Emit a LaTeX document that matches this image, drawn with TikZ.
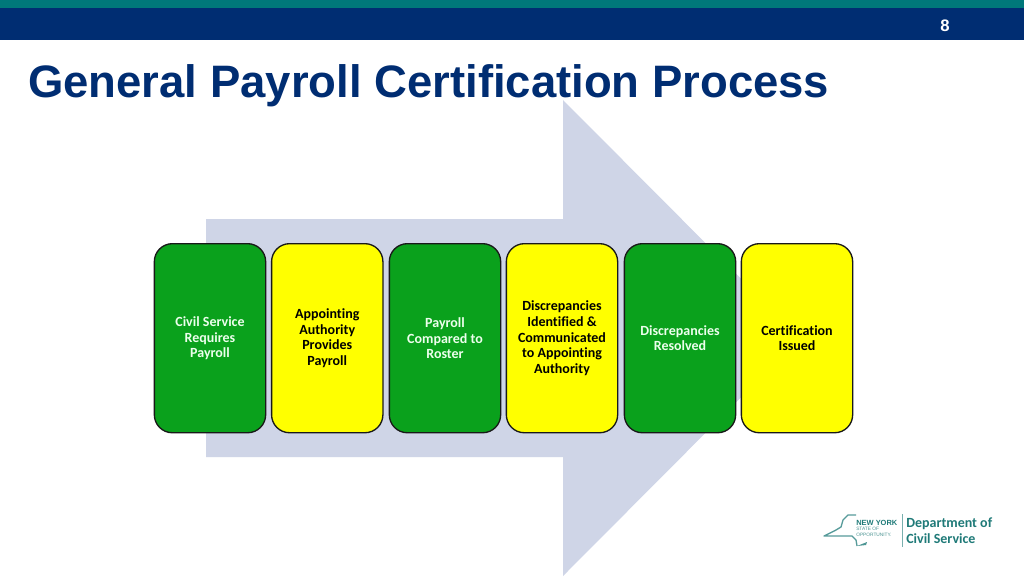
\documentclass[tikz,border=0pt]{standalone}
\usepackage{fontspec}
\setmainfont{Carlito}[Ligatures=NoCommon]
\newfontfamily\arialf{Liberation Sans}
\definecolor{navy}{HTML}{002D72}
\definecolor{tealbar}{HTML}{00787A}
\definecolor{arrowfill}{HTML}{CFD5E7}
\definecolor{boxgreen}{HTML}{0AA11C}
\definecolor{boxyellow}{HTML}{FFFF00}
\definecolor{logoteal}{HTML}{1F7A78}
\tikzset{
  stage/.style={draw=black!90,line width=1pt,rounded corners=13.5pt,minimum width=83.5pt,minimum height=141.8pt,inner sep=0pt,align=center,font=\bfseries\fontsize{10.5}{11.8}\selectfont,anchor=center},
  greenstage/.style={stage,fill=boxgreen,text=white!93!green},
  yellowstage/.style={stage,fill=boxyellow,text=black},
  logotext/.style={text=logoteal,inner sep=0pt,anchor=west,align=left}
}
\begin{document}
\begin{tikzpicture}[x=0.75pt,y=-0.75pt]
\useasboundingbox (0,0) rectangle (1024,576);
\fill[white] (0,0) rectangle (1024,576);
\fill[navy] (0,8) rectangle (1024,40);
\fill[tealbar] (0,0) rectangle (1024,8);
\node[text=white,inner sep=0pt,font=\arialf\bfseries\fontsize{12.5}{14}\selectfont] (pagenum) at (945,26) {8};
\fill[arrowfill] (206,219) -- (563,219) -- (563,100) -- (800,338) -- (563,576) -- (563,457) -- (206,457) -- cycle;
\node[text=navy,inner sep=0pt,anchor=west,font=\arialf\bfseries\fontsize{34.1}{40}\selectfont] (title) at (28,86) {General Payroll Certification Process};
\node[greenstage] (s1) at (210,338.2) {Civil Service\\Requires\\Payroll};
\node[yellowstage] (s2) at (327.25,338.2) {Appointing\\Authority\\Provides\\Payroll};
\node[greenstage] (s3) at (445,338.2) {Payroll\\Compared to\\Roster};
\node[yellowstage] (s4) at (562,338.2) {Discrepancies\\Identified \&\\Communicated\\to Appointing\\Authority};
\node[greenstage] (s5) at (680,338.2) {Discrepancies\\Resolved};
\node[yellowstage] (s6) at (797,338.2) {Certification\\Issued};
% logo
\draw[logoteal!75,line width=1pt,line join=round] (856,515) -- (848,515) -- (843,520) -- (841,527) -- (836,530) -- (824,536) -- (852,536) -- (856,540) -- (857,546);
\fill[logoteal!80] (857,546) -- (867,542) -- (866,545) -- cycle;
\fill[logoteal!60] (901.5,514) rectangle (902.5,547);
\node[logotext,font=\arialf\bfseries\fontsize{5.6}{6.5}\selectfont] (ny) at (856,523) {NEW YORK};
\node[logotext,font=\arialf\fontsize{3.6}{4}\selectfont,opacity=.8] (st) at (856,532) {STATE OF\\OPPORTUNITY.};
\node[logotext,font=\bfseries\fontsize{10.5}{12.2}\selectfont] (dept) at (906,530.5) {Department of\\Civil Service};
\end{tikzpicture}
\end{document}
